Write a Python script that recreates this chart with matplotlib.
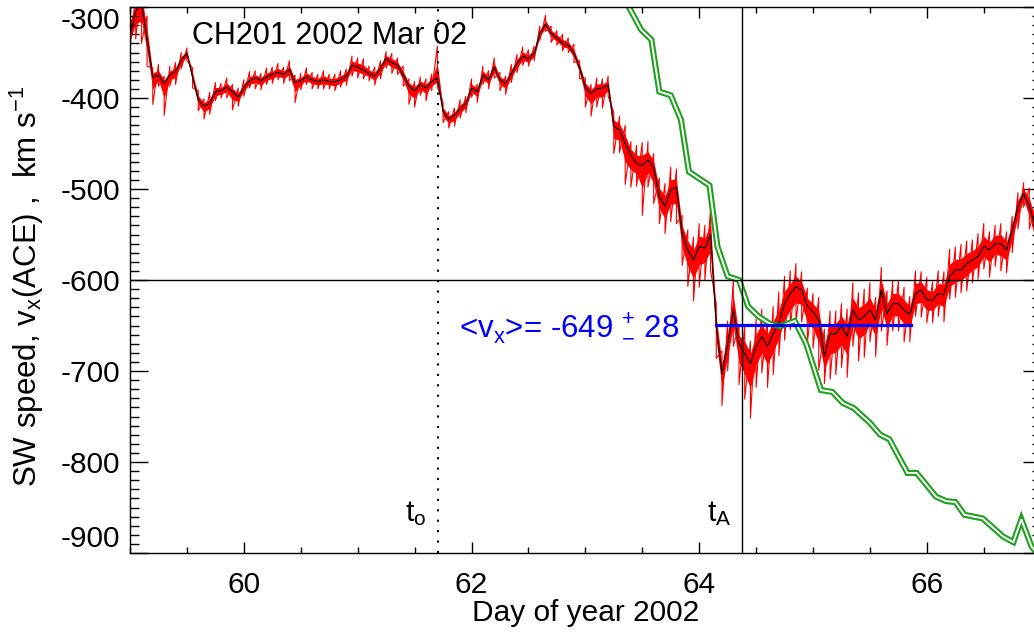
import numpy as np
import matplotlib
matplotlib.use('Agg')
import matplotlib.pyplot as plt
from matplotlib.ticker import MultipleLocator

plt.rcParams['font.family'] = ['Liberation Sans', 'DejaVu Sans']
plt.rcParams['mathtext.default'] = 'regular'
plt.rcParams['axes.unicode_minus'] = False

# ACE solar wind speed, sampled every 0.05 day from day 59.00 to 67.00
# black = smoothed curve, up/dn = how far the red 1-min data reaches above/below it
black = [
    -330, -305, -295, -335, -377, -375, -384, -375, -371, -358, -351, -377, -402, -409, -406, -393, -392, -388, -393, -399,  # 59
    -388, -381, -378, -381, -377, -374, -372, -374, -369, -383, -381, -377, -380, -382, -380, -382, -382, -380, -376, -364,  # 60
    -366, -369, -373, -376, -367, -357, -361, -364, -375, -387, -392, -385, -389, -382, -378, -415, -423, -419, -412, -406,  # 61
    -389, -393, -375, -380, -366, -380, -384, -373, -362, -354, -357, -351, -329, -319, -329, -334, -340, -342, -351, -367,  # 62
    -388, -395, -390, -389, -386, -431, -435, -450, -463, -472, -474, -468, -476, -508, -519, -501, -498, -549, -567, -578,  # 63
    -563, -565, -550, -651, -703, -670, -633, -670, -681, -692, -673, -662, -673, -659, -648, -626, -615, -607, -611, -629,  # 64
    -635, -644, -684, -659, -659, -651, -662, -633, -644, -640, -633, -644, -611, -637, -626, -626, -633, -638, -615, -611,  # 65
    -622, -622, -615, -616, -596, -589, -589, -582, -578, -574, -563, -567, -560, -560, -567, -545, -519, -505, -519, -540,  # 66
    -555]
up = [
    30, 20, 20, 25, 10, 12, 8, 10, 10, 8, 6, 10, 10, 8, 12, 10, 8, 10, 8, 10,
    8, 10, 8, 8, 10, 8, 10, 8, 10, 8, 8, 10, 8, 8, 10, 8, 8, 10, 8, 10,
    10, 12, 8, 10, 8, 8, 10, 8, 10, 8, 10, 8, 10, 8, 35, 10, 8, 8, 10, 8,
    10, 8, 10, 10, 10, 8, 8, 10, 10, 10, 10, 8, 8, 10, 8, 8, 10, 8, 10, 8,
    10, 10, 12, 10, 10, 15, 15, 20, 15, 20, 25, 20, 15, 20, 25, 25, 20, 20, 22, 25,
    25, 25, 28, 25, 25, 25, 35, 20, 30, 25, 30, 30, 30, 30, 35, 30, 25, 25, 20, 20,
    20, 25, 30, 25, 25, 25, 30, 30, 30, 30, 30, 25, 25, 25, 25, 25, 25, 20, 25, 20,
    25, 20, 25, 25, 30, 25, 28, 25, 22, 25, 25, 20, 20, 22, 20, 15, 15, 12, 20, 20,
    20]
dn = [
    15, 30, 45, 30, 30, 12, 35, 12, 14, 10, 8, 12, 12, 14, 12, 10, 8, 12, 20, 10,
    10, 8, 12, 10, 8, 10, 8, 10, 12, 22, 10, 8, 10, 8, 10, 8, 10, 8, 10, 12,
    12, 10, 8, 10, 12, 10, 12, 10, 12, 20, 18, 12, 14, 10, 10, 12, 10, 12, 10, 10,
    10, 12, 10, 10, 12, 12, 12, 10, 10, 10, 8, 8, 8, 8, 10, 8, 8, 8, 10, 12,
    22, 25, 20, 22, 12, 30, 25, 45, 35, 25, 55, 30, 40, 30, 30, 35, 40, 35, 40, 45,
    45, 35, 40, 35, 35, 30, 40, 45, 50, 60, 45, 40, 45, 45, 35, 40, 40, 40, 35, 40,
    40, 55, 30, 50, 45, 45, 45, 40, 45, 45, 35, 40, 45, 35, 30, 30, 35, 30, 25, 30,
    25, 25, 25, 30, 25, 30, 25, 30, 25, 25, 25, 30, 25, 30, 25, 25, 25, 15, 25, 30,
    25]

# green model curve (vertices)
green_day = [63.33, 63.49, 63.58, 63.65, 63.75, 63.84, 63.91, 64.09, 64.16, 64.25,
             64.35, 64.43, 64.52, 64.62, 64.71, 64.84, 64.94, 65.07, 65.17, 65.26,
             65.36, 65.50, 65.59, 65.67, 65.83, 65.91, 66.08, 66.17, 66.25, 66.33,
             66.49, 66.67, 66.76, 66.83, 66.92, 67.00]
green_v = [-288, -325, -336, -393, -397, -424, -481, -496, -563, -596,
           -600, -629, -640, -648, -651, -645, -670, -721, -723, -735,
           -741, -757, -770, -775, -812, -812, -838, -843, -844, -858,
           -862, -882, -888, -863, -893, -905]

t_o = 61.706
t_A = 64.374
mean_vx = -649
mean_span = [64.15, 65.86]

black = np.array(black, dtype=float)
up = np.array(up, dtype=float)
dn = np.array(dn, dtype=float)
days = np.linspace(59, 67, len(black))

fig = plt.figure(figsize=(10.34, 6.35), dpi=100)
ax = fig.add_axes([130 / 1034, 1 - 553 / 635, 910.7 / 1034, 546 / 635])

# red raw data: solid core plus spikes out to the read extremes
ax.fill_between(days, black - 0.45 * dn, black + 0.45 * up, color='red', lw=0)
rx = np.repeat(days, 2)
ry = np.column_stack([black + up, black - dn]).ravel()
ax.plot(rx, ry, color='red', lw=0.8)
ax.plot(days, black, color='black', lw=0.8)

ax.plot(green_day, green_v, color='#1fa01f', lw=4.4, solid_joinstyle='miter')
ax.plot(green_day, green_v, color='white', lw=1.4, solid_joinstyle='miter')

ax.axhline(-600, color='black', lw=1)
ax.axvline(t_A, color='black', lw=1)
ax.axvline(t_o, color='black', lw=1.5, linestyle=(0, (1, 4)))
ax.plot(mean_span, [mean_vx, mean_vx], color='#0000ff', lw=2.3)

ax.set_xlim(59, 67)
ax.set_ylim(-900, -300)
ax.set_xticks([60, 62, 64, 66])
ax.xaxis.set_minor_locator(MultipleLocator(0.5))
ax.set_yticks(np.arange(-900, -299, 100))
ax.yaxis.set_minor_locator(MultipleLocator(10))
ax.tick_params(which='both', direction='in', top=True, right=True, width=1,
               labelsize=21.5)
ax.tick_params(axis='x', which='major', length=8, pad=13)
ax.tick_params(axis='x', which='minor', length=4)
ax.tick_params(axis='y', which='major', length=13, pad=7)
ax.tick_params(axis='y', which='minor', length=6.5)
for s in ax.spines.values():
    s.set_linewidth(1)

ylabs = ax.get_yticklabels()
ylabs[0].set_va('bottom')
ylabs[-1].set_va('top')

ax.text(59.543, -340.7, 'CH201 2002 Mar 02', fontsize=22, ha='left', va='baseline')
ax.text(61.60, -865, 't$_o$', fontsize=21.5, ha='right', va='baseline')
ax.text(64.283, -865, 't$_A$', fontsize=21.5, ha='right', va='baseline')
ax.text(61.89, -660, '<v$_x$>= -649 ${}^{+}_{-}$ 28', fontsize=22.5,
        color='#0000ff', ha='left', va='baseline')

fig.text(586 / 1034, 1 - 613 / 635, 'Day of year 2002', fontsize=21.5,
         ha='center', va='center')
fig.text(27 / 1034, 1 - 286 / 635, 'SW speed, v$_x$(ACE) ,  km s$^{-1}$',
         fontsize=22.5, rotation=90, ha='center', va='center')

fig.savefig('out.png', dpi=100)
